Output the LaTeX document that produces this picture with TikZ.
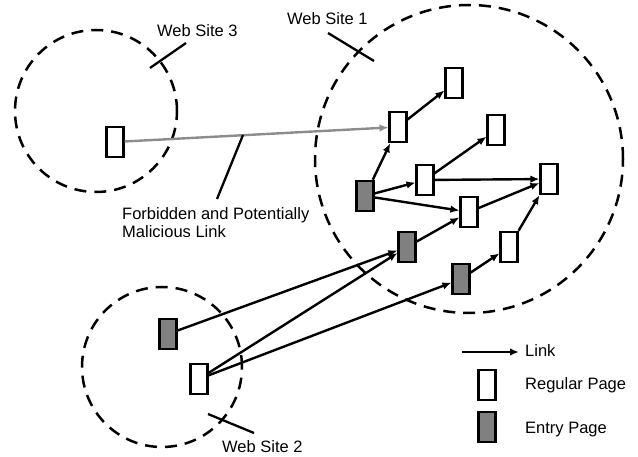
\documentclass[tikz,border=0pt]{standalone}
\usepackage{fontspec}
\setmainfont{Liberation Sans}
\usetikzlibrary{arrows.meta}
\definecolor{entrygrey}{HTML}{808080}
\definecolor{badlink}{HTML}{8C8C8C}
\tikzset{
  page/.style={rectangle, draw=black, line width=2.6pt, fill=white,
    minimum width=16.5pt, minimum height=30pt, inner sep=0pt},
  entry/.style={page, fill=entrygrey},
  link/.style={line width=2.4pt, -{Latex[length=9pt,width=7.5pt]}},
  forbidden/.style={link, draw=badlink},
  site/.style={line width=2.5pt, dash pattern=on 12pt off 8pt},
  tick/.style={line width=2.3pt},
  lbl/.style={inner sep=0pt, anchor=base west, font=\fontsize{16.5}{19}\selectfont},
}
\begin{document}
\begin{tikzpicture}[x=1pt, y=-1pt]
\useasboundingbox (0,0) rectangle (638,457);

% web site boundaries
\draw[site] (96,111) circle[radius=81pt];
\draw[site] (469,159) circle[radius=154pt];
\draw[site] (162,367) circle[radius=80pt];

% pages of web site 1
\node[page]  (a) at (454,83)  {};
\node[page]  (b) at (398,127) {};
\node[page]  (c) at (496,130) {};
\node[page]  (d) at (425,180) {};
\node[page]  (e) at (549,179) {};
\node[entry] (f) at (365,196) {};
\node[page]  (g) at (469,212) {};
\node[entry] (h) at (407,247) {};
\node[page]  (i) at (509,247) {};
\node[entry] (j) at (461,279) {};

% page of web site 3
\node[page] (s3) at (115,142) {};

% pages of web site 2
\node[entry] (s2e) at (168,334) {};
\node[page]  (s2r) at (199,379) {};

% links inside web site 1
\draw[link] (f) -- (b);
\draw[link] (b) -- (a);
\draw[link] (f) -- (d);
\draw[link] (f) -- (g);
\draw[link] (d) -- (c);
\draw[link] (d) -- (e);
\draw[link] (g) -- (e);
\draw[link] (i) -- (e);
\draw[link] (h) -- (g);
\draw[link] (j) -- (i);

% links from web site 2
\draw[link] (s2e) -- (h);
\draw[link] (s2r) -- (h);
\draw[link] (s2r) -- (j);

% forbidden link from web site 3
\draw[forbidden] (s3) -- (b);

% labels with their pointers
\node[lbl] (l3) at (157,37) {Web Site 3};
\draw[tick] (150,68) -- (186,43);
\node[lbl] (l1) at (287,25) {Web Site 1};
\draw[tick] (328,33) -- (374,61);
\node[lbl] (l2) at (222,453) {Web Site 2};
\draw[tick] (208,414) -- (254,433);
% base anchor of a two-line node sits on its last line
\node[lbl, align=left, anchor=base west] (lf) at (122,238)
  {Forbidden and Potentially\\[-0.5pt]Malicious Link};
\draw[tick] (243,135) -- (217,199);

% legend
\coordinate (k0) at (462,352);
\coordinate (k1) at (519,352);
\draw[link] (k0) -- (k1);
\node[lbl] (lk) at (525,356) {Link};
\node[page]  (kr) at (487,385) {};
\node[lbl] (lr) at (525,390) {Regular Page};
\node[entry] (ke) at (487,427) {};
\node[lbl] (le) at (525,433) {Entry Page};
\end{tikzpicture}
\end{document}
